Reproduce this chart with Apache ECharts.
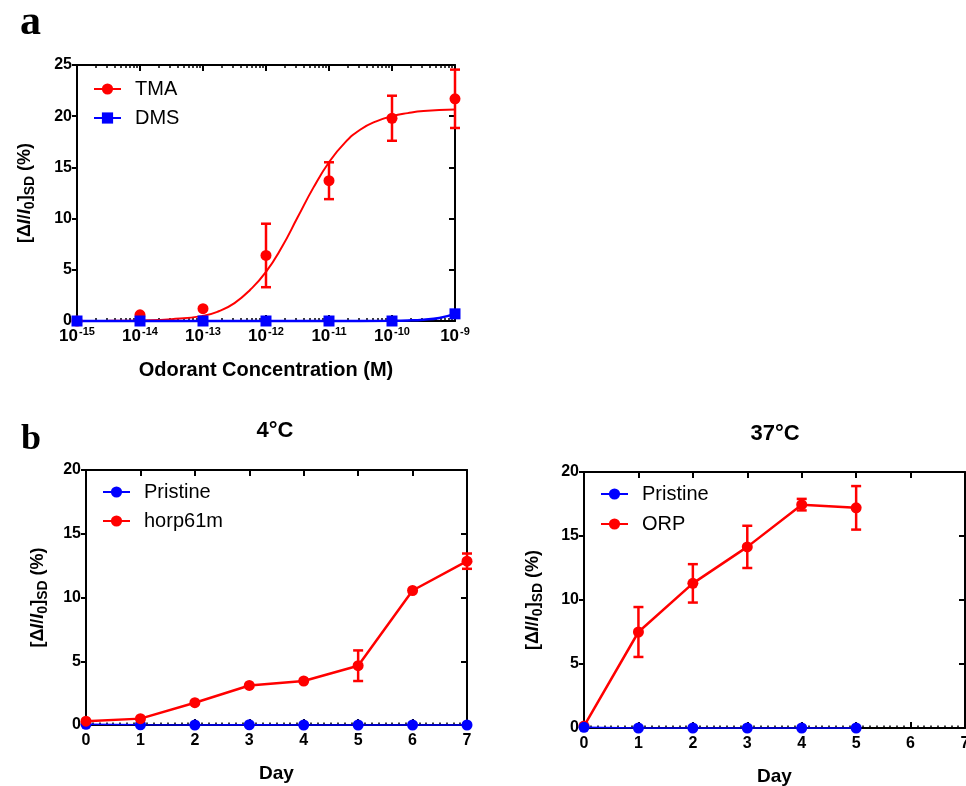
<!DOCTYPE html>
<html>
<head>
<meta charset="utf-8">
<script src="https://cdn.jsdelivr.net/npm/echarts@6/dist/echarts.min.js"></script>
<style>
  html, body { margin: 0; padding: 0; background: #fff; }
  #chart { width: 966px; height: 786px; }
</style>
</head>
<body>
<div id="chart"></div>
<script>
// panel a: dose response
const concExp = [-15, -14, -13, -12, -11, -10, -9];
const tmaMean = [0, 0.6, 1.2, 6.4, 13.7, 19.8, 21.7];
const tmaErr = [0, 0, 0, 3.1, 1.8, 2.2, 2.85];
const dmsMean = [0, 0, 0, 0, 0, 0, 0.7];
// fitted curve
const fitExp = [-15, -14.5, -14, -13.5, -13, -12.75, -12.5, -12.25, -12, -11.75, -11.5, -11.25, -11, -10.75, -10.5, -10.25, -10, -9.75, -9.5, -9];
const fitVal = [0, 0.02, 0.06, 0.18, 0.5, 0.95, 1.75, 3.05, 4.8, 7.2, 10.1, 13.0, 15.5, 17.4, 18.7, 19.5, 20.0, 20.3, 20.5, 20.65];
const dmsFitExp = [-15, -14, -13, -12, -11, -10, -9.75, -9.5, -9.25, -9];
const dmsFitVal = [0, 0, 0, 0, 0, 0.02, 0.05, 0.13, 0.3, 0.7];

// panel b: stability
const days4 = [0, 1, 2, 3, 4, 5, 6, 7];
const pristine4 = [0.05, 0.02, 0, 0.02, 0, 0, 0, 0];
const horp = [0.3, 0.5, 1.75, 3.1, 3.45, 4.65, 10.55, 12.85];
const horpErr = [0, 0, 0, 0, 0, 1.2, 0, 0.6];
const days37 = [0, 1, 2, 3, 4, 5];
const pristine37 = [0.05, 0, 0, 0, 0, 0];
const orp = [0.15, 7.5, 11.3, 14.15, 17.45, 17.2];
const orpErr = [0, 1.95, 1.5, 1.65, 0.45, 1.7];

const RED = '#ff0000';
const BLUE = '#0000ff';
const FONT = "'Liberation Sans', Arial, sans-serif";
const SERIF = "'Liberation Serif', 'DejaVu Serif', serif";

const chart = echarts.init(document.getElementById('chart'));

const pw = e => Math.pow(10, e);
const pairs = (xs, ys, fx) => xs.map((x, i) => [fx ? fx(x) : x, ys[i]]);

// minor tick positions for the log axis (2..9 in each decade)
const minorLog = [];
for (let d = -15; d < -9; d++) {
  for (let k = 2; k <= 9; k++) minorLog.push(d + Math.log10(k));
}

function errBars(xi, yi, xs, means, errs, fx) {
  const data = [];
  xs.forEach((x, i) => {
    if (errs[i] > 0) data.push([fx ? fx(x) : x, means[i] - errs[i], means[i] + errs[i]]);
  });
  return {
    type: 'custom',
    xAxisIndex: xi,
    yAxisIndex: yi,
    data: data,
    encode: { x: 0, y: [1, 2] },
    z: 4,
    silent: true,
    renderItem: function (params, api) {
      const x = api.value(0);
      const lo = api.coord([x, api.value(1)]);
      const hi = api.coord([x, api.value(2)]);
      const hw = 5;
      const style = { stroke: RED, lineWidth: 2.5 };
      return {
        type: 'group',
        children: [
          { type: 'line', shape: { x1: lo[0], y1: lo[1], x2: hi[0], y2: hi[1] }, style: style },
          { type: 'line', shape: { x1: lo[0] - hw, y1: lo[1], x2: lo[0] + hw, y2: lo[1] }, style: style },
          { type: 'line', shape: { x1: hi[0] - hw, y1: hi[1], x2: hi[0] + hw, y2: hi[1] }, style: style }
        ]
      };
    }
  };
}

const axisLine = { onZero: false, lineStyle: { color: '#000', width: 2 } };
const tickLabel = { color: '#000', fontFamily: FONT, fontWeight: 'bold', fontSize: 16 };

const yNameRich = {
  n: { fontFamily: FONT, fontWeight: 'bold', fontSize: 18, color: '#000' },
  i: { fontFamily: FONT, fontWeight: 'bold', fontStyle: 'italic', fontSize: 18, color: '#000' },
  s: { fontFamily: FONT, fontWeight: 'bold', fontSize: 14, color: '#000', padding: [9, 0, 0, 0] }
};
const yName = '{n|[Δ}{i|I}{n|/}{i|I}{s|0}{n|]}{s|SD}{n| (%)}';

function leftY(grid, max, gap) {
  return {
    type: 'value', gridIndex: grid, min: 0, max: max, interval: 5,
    axisLine: axisLine,
    axisTick: { show: true, inside: false, length: 5, lineStyle: { color: '#000', width: 2 } },
    axisLabel: Object.assign({ margin: 5 }, tickLabel),
    splitLine: { show: false },
    name: yName, nameLocation: 'middle', nameGap: gap, nameRotate: 90,
    nameTextStyle: { rich: yNameRich }
  };
}
function rightY(grid, max) {
  return {
    type: 'value', gridIndex: grid, position: 'right', min: 0, max: max, interval: 5,
    axisLine: axisLine,
    axisTick: { show: true, inside: true, length: 6, lineStyle: { color: '#000', width: 2 } },
    axisLabel: { show: false },
    splitLine: { show: false }
  };
}
function dayX(grid, top) {
  return {
    type: 'value', gridIndex: grid, position: top ? 'top' : 'bottom', min: 0, max: 7, interval: 1,
    axisLine: axisLine,
    axisTick: { show: true, inside: true, length: 6, lineStyle: { color: '#000', width: 2 } },
    minorTick: { show: !top, splitNumber: 8, length: 2.5, lineStyle: { color: '#000', width: 1.5 } },
    axisLabel: top ? { show: false } : Object.assign({ margin: 8 }, tickLabel),
    splitLine: { show: false },
    name: top ? '' : 'Day', nameLocation: 'middle', nameGap: 39,
    nameTextStyle: { fontFamily: FONT, fontWeight: 'bold', fontSize: 19, color: '#000', verticalAlign: 'top' }
  };
}
function minorX(top) {
  return {
    type: 'value', gridIndex: 0, position: top ? 'top' : 'bottom', min: -15, max: -9,
    axisLine: { show: false, onZero: false },
    axisTick: { show: true, inside: true, length: 3, customValues: minorLog, lineStyle: { color: '#000', width: 1.5 } },
    axisLabel: { show: false },
    splitLine: { show: false }
  };
}
function logX(top) {
  return {
    type: 'log', gridIndex: 0, position: top ? 'top' : 'bottom', logBase: 10,
    min: pw(-15), max: pw(-9), splitNumber: 6,
    axisLine: axisLine,
    axisTick: { show: true, inside: true, length: 6, lineStyle: { color: '#000', width: 2 } },
    axisLabel: top ? { show: false } : {
      margin: 5,
      formatter: v => '{b|10}{p|' + Math.round(Math.log10(v)) + '}',
      rich: {
        b: { fontFamily: FONT, fontWeight: 'bold', fontSize: 17, color: '#000' },
        p: { fontFamily: FONT, fontWeight: 'bold', fontSize: 11, color: '#000', padding: [0, 0, 10, 1] }
      }
    },
    splitLine: { show: false },
    name: top ? '' : 'Odorant Concentration (M)', nameLocation: 'middle', nameGap: 39,
    nameTextStyle: { fontFamily: FONT, fontWeight: 'bold', fontSize: 20, color: '#000', verticalAlign: 'top' }
  };
}

function lineSeries(name, xi, yi, data, color, symbol, extra) {
  return Object.assign({
    name: name, type: 'line', xAxisIndex: xi, yAxisIndex: yi, data: data,
    symbol: symbol, symbolSize: 11, clip: false, z: 3,
    lineStyle: { color: color, width: 2.5 },
    itemStyle: { color: color }
  }, extra || {});
}

const legendText = { fontFamily: FONT, fontSize: 20, color: '#000', padding: [0, 0, 0, 9] };
function legend(names, left, top, gap) {
  return {
    data: names, left: left, top: top, orient: 'vertical', padding: 0,
    itemWidth: 27, itemHeight: 14, itemGap: gap,
    textStyle: legendText, selectedMode: false
  };
}

const option = {
  animation: false,
  backgroundColor: '#fff',
  title: [
    { text: 'a', left: 20, top: 2, padding: 0, textStyle: { fontFamily: SERIF, fontWeight: 'bold', fontSize: 42, color: '#000' } },
    { text: 'b', left: 21, top: 422, padding: 0, textStyle: { fontFamily: SERIF, fontWeight: 'bold', fontSize: 36, color: '#000' } },
    { text: '4°C', left: 275, top: 420, padding: 0, textAlign: 'center', textStyle: { fontFamily: FONT, fontWeight: 'bold', fontSize: 22, color: '#000' } },
    { text: '37°C', left: 775, top: 423, padding: 0, textAlign: 'center', textStyle: { fontFamily: FONT, fontWeight: 'bold', fontSize: 22, color: '#000' } }
  ],
  grid: [
    { left: 77, top: 65, width: 378, height: 256, outerBoundsMode: 'none' },
    { left: 86, top: 470, width: 381, height: 255, outerBoundsMode: 'none' },
    { left: 584, top: 472, width: 381, height: 256, outerBoundsMode: 'none' }
  ],
  legend: [
    legend(['TMA', 'DMS'], 93, 79, 9),
    legend(['Pristine', 'horp61m'], 102, 482, 9),
    legend(['Pristine', 'ORP'], 600, 484, 10)
  ],
  xAxis: [
    logX(false), logX(true), minorX(false), minorX(true),
    dayX(1, false), dayX(1, true),
    dayX(2, false), dayX(2, true)
  ],
  yAxis: [
    leftY(0, 25, 40), rightY(0, 25),
    leftY(1, 20, 36), rightY(1, 20),
    leftY(2, 20, 39), rightY(2, 20)
  ],
  series: [
    // panel a
    lineSeries('TMA', 0, 0, pairs(fitExp, fitVal, pw), RED, 'circle', { smooth: true, showSymbol: false, lineStyle: { color: RED, width: 2 } }),
    lineSeries('DMS', 0, 0, pairs(dmsFitExp, dmsFitVal, pw), BLUE, 'rect', { smooth: true, showSymbol: false, lineStyle: { color: BLUE, width: 2.5 } }),
    errBars(0, 0, concExp, tmaMean, tmaErr, pw),
    { name: 'TMA', type: 'scatter', xAxisIndex: 0, yAxisIndex: 0, data: pairs(concExp, tmaMean, pw), symbol: 'circle', symbolSize: 11, itemStyle: { color: RED, opacity: 1 }, clip: false, z: 5 },
    { name: 'DMS', type: 'scatter', xAxisIndex: 0, yAxisIndex: 0, data: pairs(concExp, dmsMean, pw), symbol: 'rect', symbolSize: 11, itemStyle: { color: BLUE, opacity: 1 }, clip: false, z: 6 },
    // panel b, 4 °C
    lineSeries('Pristine', 4, 2, pairs(days4, pristine4), BLUE, 'circle', { lineStyle: { color: BLUE, width: 1.5 } }),
    errBars(4, 2, days4, horp, horpErr),
    lineSeries('horp61m', 4, 2, pairs(days4, horp), RED, 'circle'),
    // panel b, 37 °C
    errBars(6, 4, days37, orp, orpErr),
    lineSeries('ORP', 6, 4, pairs(days37, orp), RED, 'circle'),
    lineSeries('Pristine', 6, 4, pairs(days37, pristine37), BLUE, 'circle', { lineStyle: { color: BLUE, width: 1.5 }, z: 6 })
  ]
};

chart.setOption(option);
</script>
</body>
</html>
